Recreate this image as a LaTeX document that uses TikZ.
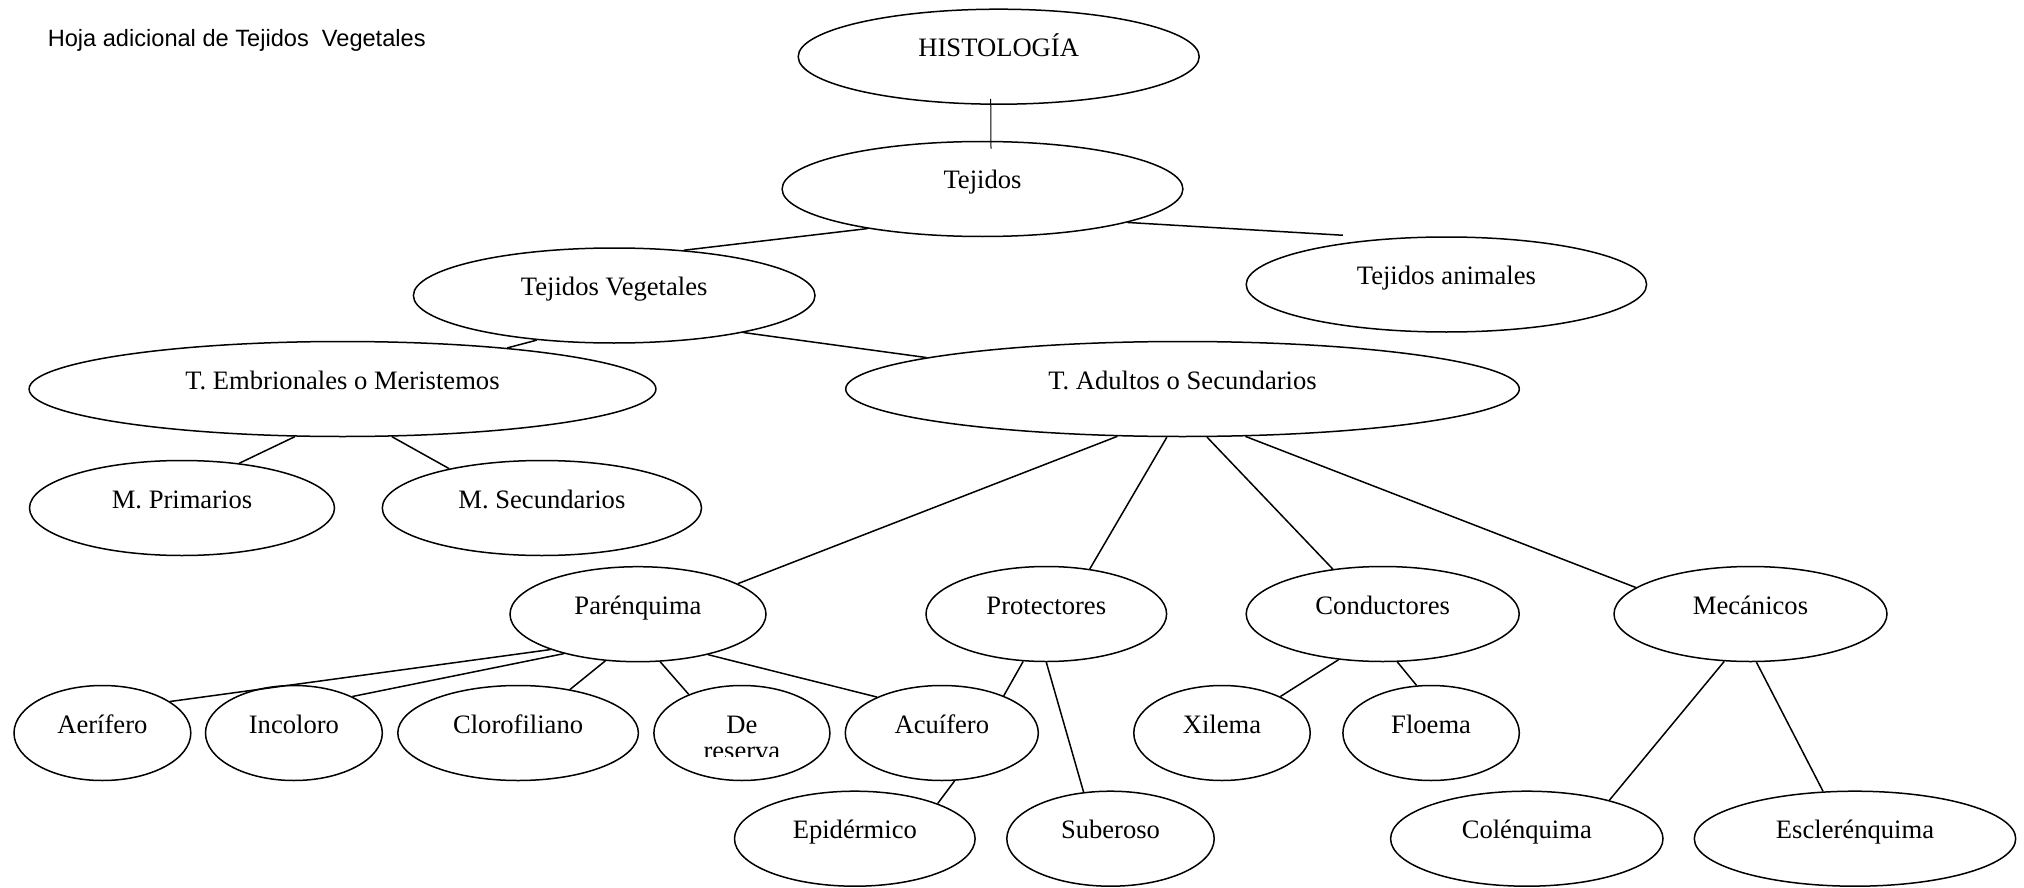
\documentclass[tikz,border=0pt]{standalone}
\usepackage{fontspec}
\setmainfont{Liberation Serif}
\newfontfamily\titlefont{Liberation Sans}
\usetikzlibrary{shapes.geometric}
\begin{document}
\begin{tikzpicture}[x=0.5pt,y=-0.5pt,
  oval/.style={ellipse,draw,line width=0.75pt,inner sep=0pt,minimum height=47.5pt,
    text height=0pt,text depth=0pt,font=\fontsize{13.3}{13}\selectfont},
  link/.style={line width=0.75pt},
  thinlink/.style={line width=0.5pt}]
\useasboundingbox (0,0) rectangle (2024,888);

\node[anchor=base west,inner sep=0pt,font=\titlefont\fontsize{11.8}{14}\selectfont] (title) at (47.4,46.7) {Hoja adicional de Tejidos\ \ Vegetales};

% upper levels
\node[oval,minimum width=200.5pt] (histo) at (998.7,56.7) {HISTOLOGÍA};
\node[oval,minimum width=200.4pt] (tej) at (982.5,189) {Tejidos};
\node[oval,minimum width=200.8pt] (veg) at (614.2,295.5) {Tejidos Vegetales};
\node[oval,minimum width=200.2pt] (anim) at (1446.4,284.5) {Tejidos animales};
\node[oval,minimum width=313.4pt] (embr) at (342.5,389) {T. Embrionales o Meristemos};
\node[oval,minimum width=336.8pt] (adul) at (1182.5,389) {T. Adultos o Secundarios};

% meristems
\node[oval,minimum width=152.5pt] (mprim) at (182,508) {M. Primarios};
\node[oval,minimum width=159.6pt] (msec) at (541.9,508) {M. Secundarios};

% adult tissues
\node[oval,minimum width=128pt] (paren) at (638,614.2) {Parénquima};
\node[oval,minimum width=120.3pt] (prot) at (1046.3,614) {Protectores};
\node[oval,minimum width=136.5pt] (cond) at (1382.7,614) {Conductores};
\node[oval,minimum width=136.5pt] (mecan) at (1750.5,614) {Mecánicos};

% third row
\node[oval,minimum width=88.4pt] (aer) at (102.4,733) {Aerífero};
\node[oval,minimum width=88.4pt] (inco) at (293.9,733) {Incoloro};
\node[oval,minimum width=120.3pt] (clor) at (518.1,733) {Clorofiliano};
\node[oval,minimum width=88pt] (dere) at (741.9,733) {De};
% second line of the box, cut off at the lower edge of its text frame
\begin{scope}
  \clip ([shift={(-80,5)}]dere.center) rectangle ([shift={(80,23.5)}]dere.center);
  \node[anchor=base,inner sep=0pt,font=\fontsize{13.3}{13}\selectfont] (dereb) at ([shift={(0,26.5)}]dere.center) {reserva};
\end{scope}
\node[oval,minimum width=96.5pt] (acui) at (941.8,733) {Acuífero};
\node[oval,minimum width=88.2pt] (xil) at (1222,733) {Xilema};
\node[oval,minimum width=88.2pt] (floe) at (1431.1,733) {Floema};

% bottom row
\node[oval,minimum width=120.3pt] (epid) at (854.8,838.7) {Epidérmico};
\node[oval,minimum width=103.7pt] (sube) at (1110.5,838.7) {Suberoso};
\node[oval,minimum width=136.2pt] (colen) at (1526.8,838.7) {Colénquima};
\node[oval,minimum width=160.7pt] (escl) at (1855,838.7) {Esclerénquima};

% connectors
\draw[thinlink] ([shift={(-8,-6)}]histo.south) -- ([shift={(8.5,8)}]tej.north);
\draw[link] (tej.199) -- (veg.33);
\draw[link] (tej.347) -- ([shift={(-103.5,-1)}]anim.north);
\draw[link] (veg.210) -- (embr.14);
\draw[link] (veg.344) -- (adul.173);
\draw[link] (embr.225) -- (mprim.38);
\draw[link] (embr.316) -- (msec.157);
\draw[link] (adul.216) -- (paren.17);
\draw[link] (adul.252) -- (prot.46);
\draw[link] (adul.297) -- (cond.138);
\draw[link] (adul.323) -- (mecan.167);
\draw[link] (paren.202) -- (aer.25);
\draw[link] (paren.208) -- (inco.32);
\draw[link] (paren.235) -- (clor.40);
\draw[link] (paren.295) -- (dere.144);
\draw[link] (paren.330) -- (acui.151);
\draw[link] (prot.244) -- (acui.31);
\draw[link] (prot.south) -- (sube.120);
\draw[link] (acui.285) -- (epid.23);
\draw[link] (cond.226) -- (xil.32);
\draw[link] (cond.287) -- (floe.107);
\draw[link] (mecan.241) -- (colen.25);
\draw[link] (mecan.277) -- (escl.124);
\end{tikzpicture}
\end{document}
